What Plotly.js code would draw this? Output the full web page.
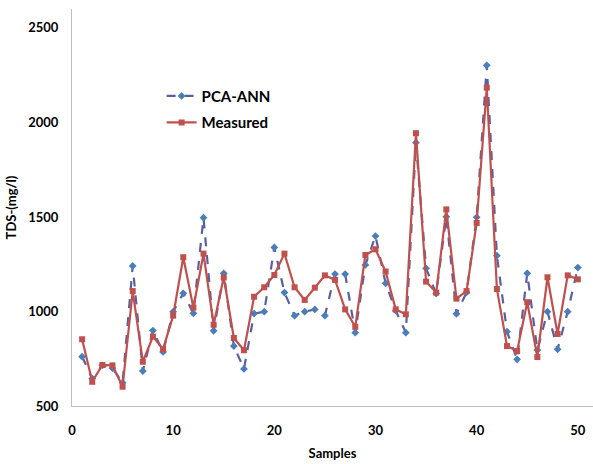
<!DOCTYPE html>
<html>
<head>
<meta charset="utf-8">
<script src="https://cdn.plot.ly/plotly-3.0.1.min.js"></script>
<style>html,body{margin:0;padding:0;background:#fff;}#chart{width:593px;height:464px;}</style>
</head>
<body>
<div id="chart"></div>
<script>
const samples = [1,2,3,4,5,6,7,8,9,10,11,12,13,14,15,16,17,18,19,20,21,22,23,24,25,26,27,28,29,30,31,32,33,34,35,36,37,38,39,40,41,42,43,44,45,46,47,48,49,50];
const pcaAnn = [761,645,715,700,623,1241,685,899,786,999,1096,990,1496,898,1202,817,696,989,999,1339,1100,978,999,1011,978,1198,1198,888,1246,1399,1149,1004,888,1893,1228,1095,1501,988,1101,1498,2302,1295,893,747,1202,796,999,800,999,1232];
const measured = [853,628,717,715,602,1108,734,867,801,978,1287,1020,1306,930,1181,860,795,1078,1128,1193,1306,1128,1061,1126,1191,1167,1011,919,1299,1329,1211,1011,985,1943,1158,1100,1540,1068,1108,1468,2184,1119,817,791,1049,759,1181,881,1191,1170];
const xTicks = [0,10,20,30,40,50];
const yTicks = [500,1000,1500,2000,2500];

const fam = 'Lato, "Open Sans", sans-serif';
const boldFont = {family: fam, size: 13, color: '#000', weight: 'bold'};

const traces = [
  {x: samples, y: pcaAnn, name: 'PCA-ANN', legendgroup: 'a', mode: 'lines+markers', type: 'scatter',
   line: {color: '#5860A0', width: 2.2, dash: 'dash'},
   marker: {symbol: 'diamond', size: 6, color: '#4A7EBB'}},
  {x: samples, y: measured, name: 'Measured', legendgroup: 'b', mode: 'lines+markers', type: 'scatter',
   line: {color: '#C0504D', width: 2.2},
   marker: {symbol: 'square', size: 6, color: '#C0504D'}}
];

const layout = {
  width: 593, height: 464,
  margin: {l: 72, r: 0, t: 9, b: 58},
  paper_bgcolor: '#fff', plot_bgcolor: '#fff',
  font: {family: fam, size: 13, color: '#000'},
  showlegend: true,
  legend: {x: 0.172, y: 0.822, xanchor: 'left', yanchor: 'top', bgcolor: 'rgba(0,0,0,0)',
           font: {family: fam, size: 15, color: '#000', weight: 'bold'},
           tracegroupgap: 4},
  xaxis: {range: [0, 51.5], tickvals: xTicks, ticktext: xTicks.map(String),
          showgrid: false, zeroline: false, showline: true, linecolor: '#BFBFBF', linewidth: 1,
          ticks: 'outside', ticklen: 12, tickcolor: 'rgba(0,0,0,0)',
          tickfont: boldFont,
          title: {text: 'Samples', standoff: 12, font: boldFont}},
  yaxis: {range: [500, 2600], tickvals: yTicks, ticktext: yTicks.map(String),
          showgrid: false, zeroline: false, showline: true, linecolor: '#BFBFBF', linewidth: 1,
          ticks: 'outside', ticklen: 10, tickcolor: 'rgba(0,0,0,0)',
          tickfont: boldFont,
          title: {text: 'TDS-(mg/l)', standoff: 8, font: boldFont}}
};

Plotly.newPlot('chart', traces, layout, {displayModeBar: false, staticPlot: true});
</script>
</body>
</html>
